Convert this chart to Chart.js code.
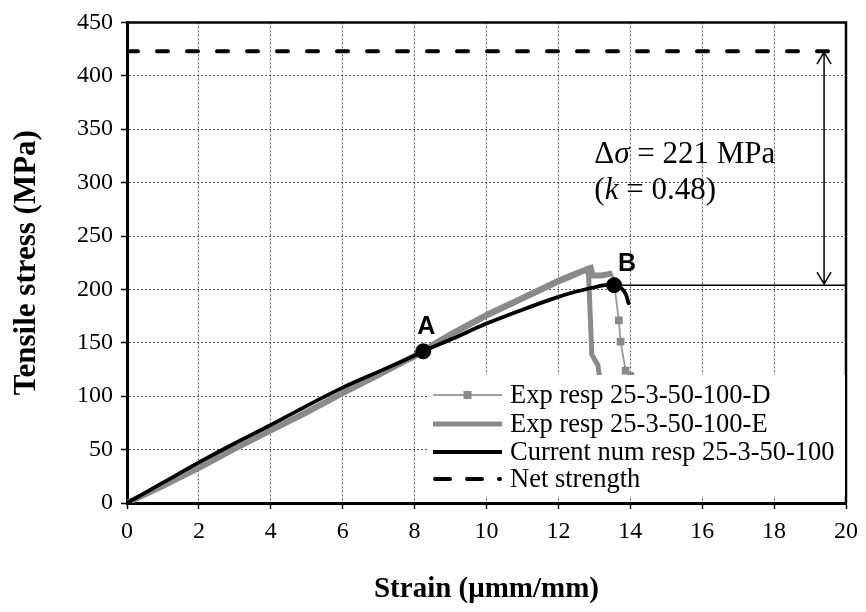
<!DOCTYPE html>
<html>
<head>
<meta charset="utf-8">
<script src="https://cdn.jsdelivr.net/npm/chart.js@4.4.1/dist/chart.umd.min.js"></script>
<style>
  body { margin: 0; background: #fff; }
  #wrap { width: 866px; height: 612px; }
</style>
</head>
<body>
<div id="wrap"><canvas id="chart" width="866" height="612"></canvas></div>
<script>
// ==========================================
// data
// ==========================================
const numStrain = [0, 1, 2, 3, 4, 5, 6, 7, 8, 8.24, 9, 10, 11, 12, 12.5, 13, 13.3, 13.55, 13.75, 13.88, 13.95];
const numStress = [0, 19, 38, 56, 73, 91, 108, 123, 138, 142, 153, 168, 181, 193, 198, 202, 204, 204, 201, 195, 187];

const expDStrain = [0, 1, 2, 3, 4, 5, 6, 7, 8, 9, 10, 11, 12, 12.5, 12.9, 12.95, 13.2, 13.5, 13.55, 13.68, 13.73, 13.87, 14.0];
const expDStress = [0, 16, 33, 51, 68, 85, 103, 120, 138, 158, 176, 192, 208, 215, 220, 213, 213, 215, 206, 171, 151, 124, 119];

const expEStrain = [0, 1, 2, 3, 4, 5, 6, 7, 8, 9, 10, 11, 12, 12.5, 12.78, 12.84, 12.93, 13.1, 13.15];
const expEStress = [0, 16, 33, 51, 68, 85, 103, 120, 137, 157, 175, 191, 207, 214, 219, 213, 139, 129, 116];

const netStrength = 423;
const markLabels = ["A", "B"];
const markStrain = [8.24, 13.55];
const markStress = [142, 204];

const xTickValues = [0, 2, 4, 6, 8, 10, 12, 14, 16, 18, 20];
const yTickValues = [0, 50, 100, 150, 200, 250, 300, 350, 400, 450];

const legendLabels = ["Exp resp 25-3-50-100-D", "Exp resp 25-3-50-100-E", "Current num resp 25-3-50-100", "Net strength"];
const deltaSigma = 221;
const kValue = 0.48;

const SERIF = "'Liberation Serif', 'Times New Roman', serif";
const SANS = "'Liberation Sans', Arial, sans-serif";
const GRAY = "#8a8a8a";

function toPoints(xs, ys) {
    return xs.map((v, i) => ({ x: v, y: ys[i] }));
}

// D: last 4 points carry the square markers, the dense part is a thick band
const dMarkerFrom = expDStrain.length - 4;
const dBandEnd = 17;

// ==========================================
// overlay: frame, legend, A/B labels, arrow and text
// ==========================================
const overlay = {
    id: "overlay",
    afterDatasetsDraw(chart) {
        const { ctx, chartArea: ca, scales: { x, y } } = chart;
        ctx.save();

        // top and right frame
        ctx.strokeStyle = "#000";
        ctx.lineWidth = 2.5;
        ctx.beginPath();
        ctx.moveTo(ca.left, ca.top);
        ctx.lineTo(ca.right, ca.top);
        ctx.lineTo(ca.right, ca.bottom);
        ctx.stroke();

        // A / B labels
        ctx.fillStyle = "#000";
        ctx.font = "bold 25px " + SANS;
        ctx.textAlign = "center";
        ctx.textBaseline = "middle";
        const labOff = [[3, -24], [13, -21]];
        markLabels.forEach((t, i) => {
            ctx.fillText(t, x.getPixelForValue(markStrain[i]) + labOff[i][0], y.getPixelForValue(markStress[i]) + labOff[i][1]);
        });

        // double arrow between B level and net strength
        const ax = x.getPixelForValue(19.39);
        const aTop = y.getPixelForValue(netStrength);
        const aBot = y.getPixelForValue(markStress[1]);
        ctx.lineWidth = 1.5;
        ctx.beginPath();
        ctx.moveTo(ax, aTop + 1);
        ctx.lineTo(ax, aBot - 1);
        ctx.moveTo(ax - 7, aTop + 13);
        ctx.lineTo(ax, aTop + 1);
        ctx.lineTo(ax + 7, aTop + 13);
        ctx.moveTo(ax - 7, aBot - 13);
        ctx.lineTo(ax, aBot - 1);
        ctx.lineTo(ax + 7, aBot - 13);
        ctx.stroke();

        // delta sigma text
        const tx = x.getPixelForValue(13.0);
        const ty1 = y.getPixelForValue(326);
        const ty2 = y.getPixelForValue(292);
        ctx.textAlign = "left";
        const pieces = (list, px, py) => {
            list.forEach(([txt, it]) => {
                ctx.font = (it ? "italic " : "") + "31px " + SERIF;
                ctx.fillText(txt, px, py);
                px += ctx.measureText(txt).width;
            });
        };
        pieces([["\u0394", false], ["\u03c3", true], [" = " + deltaSigma + " MPa", false]], tx, ty1);
        pieces([["(", false], ["k", true], [" = " + kValue + ")", false]], tx, ty2);

        // legend with white box
        const lx = 427, ly = 375, lw = 418, lh = 121;
        ctx.fillStyle = "#fff";
        ctx.fillRect(lx, ly, lw, lh);
        const rows = [395, 424, 452, 479];
        const sx0 = 433, sx1 = 502;
        ctx.lineCap = "butt";
        rows.forEach((ry, i) => {
            ctx.setLineDash([]);
            if (i === 0) {
                ctx.strokeStyle = "#a0a0a0"; ctx.lineWidth = 2;
                ctx.beginPath(); ctx.moveTo(sx0, ry); ctx.lineTo(sx1, ry); ctx.stroke();
                ctx.fillStyle = GRAY;
                ctx.fillRect((sx0 + sx1) / 2 - 4, ry - 4, 8, 8);
            } else if (i === 1) {
                ctx.strokeStyle = GRAY; ctx.lineWidth = 5;
                ctx.beginPath(); ctx.moveTo(sx0, ry); ctx.lineTo(sx1, ry); ctx.stroke();
            } else if (i === 2) {
                ctx.strokeStyle = "#000"; ctx.lineWidth = 4;
                ctx.beginPath(); ctx.moveTo(sx0, ry); ctx.lineTo(sx1, ry); ctx.stroke();
            } else {
                ctx.strokeStyle = "#000"; ctx.lineWidth = 4;
                ctx.lineCap = "round";
                ctx.setLineDash([15, 17]);
                ctx.beginPath(); ctx.moveTo(sx0 + 2, ry); ctx.lineTo(sx1 - 2, ry); ctx.stroke();
                ctx.lineCap = "butt";
                ctx.setLineDash([]);
            }
            ctx.fillStyle = "#000";
            ctx.font = "26.5px " + SERIF;
            ctx.textBaseline = "middle";
            ctx.fillText(legendLabels[i], 510, ry + 1);
        });

        ctx.restore();
    }
};

// ==========================================
// chart
// ==========================================
const ctx = document.getElementById("chart").getContext("2d");
new Chart(ctx, {
    type: "scatter",
    data: {
        datasets: [
            {
                label: "marks",
                data: toPoints(markStrain, markStress),
                showLine: false,
                pointRadius: 7.5,
                pointBackgroundColor: "#000",
                pointBorderColor: "#000"
            },
            {
                label: legendLabels[2],
                data: toPoints(numStrain, numStress),
                showLine: true,
                borderColor: "#000",
                borderWidth: 3.8,
                pointRadius: 0,
                tension: 0.3,
                borderCapStyle: "round"
            },
            {
                label: legendLabels[0],
                data: toPoints(expDStrain, expDStress),
                showLine: true,
                borderColor: "#9a9a9a",
                borderWidth: 2,
                segment: {
                    borderWidth: c => (c.p1DataIndex <= dBandEnd ? 6 : 1.8),
                    borderColor: c => (c.p1DataIndex <= dBandEnd ? GRAY : "#9a9a9a")
                },
                pointStyle: "rect",
                pointRadius: expDStrain.map((v, i) => (i >= dMarkerFrom ? 5.5 : 0)),
                pointBackgroundColor: GRAY,
                pointBorderColor: GRAY,
                pointBorderWidth: 0
            },
            {
                label: legendLabels[1],
                data: toPoints(expEStrain, expEStress),
                showLine: true,
                borderColor: GRAY,
                borderWidth: 5,
                pointRadius: 0
            },
            {
                label: "B level",
                data: toPoints([markStrain[1], 20], [markStress[1], markStress[1]]),
                showLine: true,
                borderColor: "#000",
                borderWidth: 1.5,
                pointRadius: 0
            },
            {
                label: legendLabels[3],
                data: toPoints([0, 20], [netStrength, netStrength]),
                showLine: true,
                borderColor: "#000",
                borderWidth: 4,
                borderDash: [11, 19],
                borderCapStyle: "round",
                pointRadius: 0
            }
        ]
    },
    options: {
        responsive: false,
        devicePixelRatio: 1,
        animation: false,
        layout: { padding: { top: 17, right: 18, bottom: 0, left: 0 } },
        plugins: {
            legend: { display: false },
            tooltip: { enabled: false }
        },
        scales: {
            x: {
                type: "linear",
                min: 0,
                max: 20,
                afterBuildTicks: s => { s.ticks = xTickValues.map(v => ({ value: v })); },
                afterFit: s => { s.height = 109; },
                grid: { color: "rgba(0,0,0,0.65)", lineWidth: 1, tickLength: 6, tickColor: "#000", tickWidth: 1.5, tickBorderDash: [] },
                border: { color: "#000", width: 3, dash: [2, 2] },
                ticks: { color: "#000", padding: 8, maxRotation: 0, font: { family: SERIF, size: 24 } },
                title: {
                    display: true,
                    text: "Strain (\u03bcmm/mm)",
                    color: "#000",
                    font: { family: SERIF, size: 29, weight: "bold" },
                    padding: { top: 0, bottom: 5 }
                }
            },
            y: {
                type: "linear",
                min: 0,
                max: 450,
                afterBuildTicks: s => { s.ticks = yTickValues.map(v => ({ value: v })); },
                afterFit: s => { s.width = 127; },
                grid: { color: "rgba(0,0,0,0.65)", lineWidth: 1, tickLength: 6, tickColor: "#000", tickWidth: 1.5, tickBorderDash: [] },
                border: { color: "#000", width: 3, dash: [2, 2] },
                ticks: { color: "#000", padding: 8, font: { family: SERIF, size: 24 } },
                title: {
                    display: true,
                    text: "Tensile stress (MPa)",
                    color: "#000",
                    font: { family: SERIF, size: 31, weight: "bold" },
                    padding: { top: 8, bottom: 0 }
                }
            }
        }
    },
    plugins: [overlay]
});
</script>
</body>
</html>
